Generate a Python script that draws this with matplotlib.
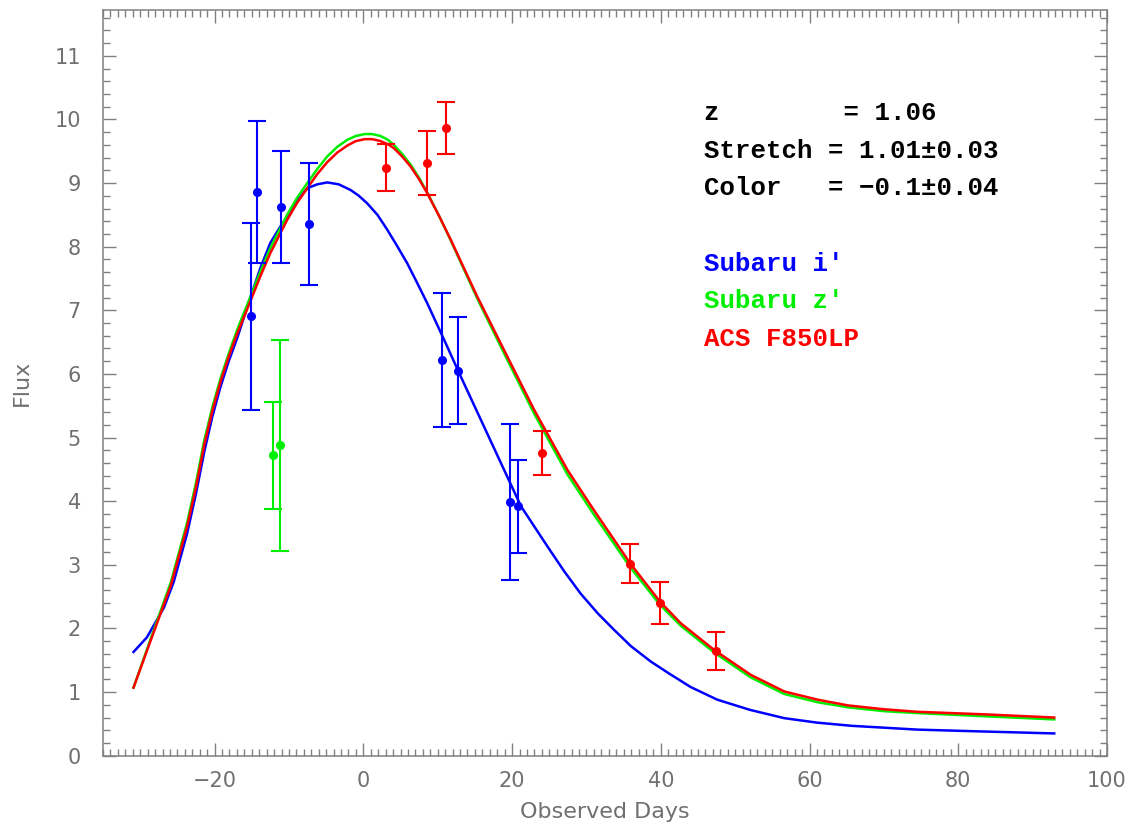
import matplotlib
matplotlib.use("Agg")
import matplotlib.pyplot as plt
from matplotlib.ticker import MultipleLocator

# ---------------- data ----------------
# Observed data points (days, flux, error)
i_days = [-15.07, -14.26, -11.08, -7.27, 10.63, 12.78, 19.72, 20.80]
i_flux = [6.91, 8.86, 8.63, 8.36, 6.22, 6.05, 3.99, 3.92]
i_err = [1.47, 1.11, 0.88, 0.96, 1.05, 0.84, 1.23, 0.73]

z_days = [-12.16, -11.26]
z_flux = [4.72, 4.88]
z_err = [0.845, 1.66]

acs_days = [3.09, 8.52, 11.07, 24.08, 35.92, 39.90, 47.44]
acs_flux = [9.24, 9.32, 9.87, 4.76, 3.02, 2.40, 1.64]
acs_err = [0.37, 0.50, 0.41, 0.35, 0.31, 0.33, 0.30]

# Model light curves
blue_x = [-30.9, -29.1, -26.8, -25.5, -23.7, -22.5, -21.4, -20.3, -19.2, -18.1,
          -17.0, -15.16, -13.8, -12.5, -11.3, -10.2, -8.9, -7.53, -6.2, -4.84,
          -3.3, -1.7, -0.6, 0.53, 1.9, 3.2, 4.5, 5.9, 7.2, 8.6,
          10.85, 13.1, 15.8, 18.5, 21.2, 24.75, 27.0, 29.2, 31.5, 33.7,
          36.0, 38.65, 41.0, 44.0, 47.6, 52.0, 56.6, 61.0, 65.6, 74.5,
          83.5, 92.9]
blue_y = [1.63, 1.86, 2.33, 2.73, 3.49, 4.12, 4.77, 5.33, 5.80, 6.20,
          6.55, 7.21, 7.68, 8.06, 8.29, 8.48, 8.72, 8.92, 8.98, 9.01,
          8.98, 8.89, 8.80, 8.68, 8.50, 8.27, 8.02, 7.74, 7.44, 7.11,
          6.54, 5.96, 5.28, 4.60, 3.92, 3.29, 2.90, 2.55, 2.24, 1.98,
          1.72, 1.48, 1.30, 1.08, 0.88, 0.72, 0.59, 0.52, 0.47, 0.41,
          0.38, 0.35]

rg_x = [-30.9, -28.5, -25.9, -23.7, -22.5, -21.4, -20.3, -19.2, -18.1, -16.95,
        -15.16, -13.8, -12.5, -11.3, -10.2, -8.9, -7.53, -6.2, -4.84, -3.5,
        -2.15, -1.0, 0.2, 1.2, 2.3, 3.3, 4.1, 5.2, 6.36, 7.5,
        8.6, 10.2, 11.75, 13.5, 15.3, 18.9, 22.95, 27.45, 31.0, 35.9,
        39.9, 42.7, 47.2, 52.1, 56.6, 61.1, 65.2, 70.0, 74.5, 83.5,
        92.9]
red_y = [1.07, 1.84, 2.67, 3.60, 4.22, 4.88, 5.42, 5.88, 6.27, 6.64,
         7.15, 7.55, 7.90, 8.18, 8.43, 8.69, 8.92, 9.14, 9.33, 9.48,
         9.59, 9.66, 9.69, 9.69, 9.66, 9.61, 9.55, 9.42, 9.26, 9.06,
         8.84, 8.48, 8.11, 7.67, 7.22, 6.38, 5.44, 4.49, 3.86, 3.02,
         2.42, 2.08, 1.66, 1.27, 1.01, 0.88, 0.79, 0.73, 0.69, 0.65,
         0.60]
green_y = [1.07, 1.87, 2.72, 3.66, 4.29, 4.95, 5.48, 5.93, 6.32, 6.70,
           7.22, 7.62, 7.98, 8.26, 8.51, 8.77, 9.00, 9.22, 9.42, 9.57,
           9.68, 9.74, 9.77, 9.77, 9.74, 9.68, 9.60, 9.46, 9.29, 9.08,
           8.85, 8.48, 8.10, 7.65, 7.19, 6.33, 5.38, 4.42, 3.79, 2.96,
           2.37, 2.04, 1.62, 1.23, 0.97, 0.84, 0.76, 0.70, 0.67, 0.62,
           0.57]

info_lines = ["z        = 1.06", "Stretch = 1.01\u00b10.03", "Color   = \u22120.1\u00b10.04"]
legend_labels = ["Subaru i\u2032", "Subaru z\u2032", "ACS F850LP"]

BLUE, GREEN, RED = "#0000ff", "#00ee00", "#ff0000"
GRAY = "#808080"
LABEL_GRAY = "#707070"

# ---------------- figure ----------------
fig = plt.figure(figsize=(11.36, 8.33), dpi=100)
ax = fig.add_axes([0.0907, 0.0928, 0.8838, 0.8952])

ax.plot(blue_x, blue_y, color=BLUE, lw=1.8, zorder=2, solid_joinstyle="round")
ax.plot(rg_x, green_y, color=GREEN, lw=1.8, zorder=2, solid_joinstyle="round")
ax.plot(rg_x, red_y, color=RED, lw=1.8, zorder=3, solid_joinstyle="round")

ekw = dict(fmt="o", ms=5.5, elinewidth=1.5, capsize=6.5, capthick=1.5, zorder=4)
ax.errorbar(i_days, i_flux, yerr=i_err, color=BLUE, **ekw)
ax.errorbar(z_days, z_flux, yerr=z_err, color=GREEN, **ekw)
ax.errorbar(acs_days, acs_flux, yerr=acs_err, color=RED, **ekw)

ax.set_xlim(-35, 100)
ax.set_ylim(0, 11.72)

ax.xaxis.set_major_locator(MultipleLocator(20))
ax.xaxis.set_minor_locator(MultipleLocator(1))
ax.yaxis.set_major_locator(MultipleLocator(1))
ax.yaxis.set_minor_locator(MultipleLocator(0.2))

ax.tick_params(which="both", direction="in", top=True, right=True, color=GRAY, width=1.0)
ax.tick_params(which="major", length=9.5)
ax.tick_params(which="minor", length=5)
ax.tick_params(axis="y", which="major", pad=16, labelsize=15, labelcolor=LABEL_GRAY)
ax.tick_params(axis="x", which="major", pad=11, labelsize=15, labelcolor=LABEL_GRAY)
for sp in ax.spines.values():
    sp.set_color(GRAY)
    sp.set_linewidth(1.1)

ax.set_xticks([-20, 0, 20, 40, 60, 80, 100])
ax.set_xticklabels(["\u221220", "0", "20", "40", "60", "80", "100"])

ax.set_xlabel("Observed Days", fontsize=16, color=LABEL_GRAY, labelpad=8)
ax.set_ylabel("Flux", fontsize=16, color=LABEL_GRAY, labelpad=16)

mono = ["Liberation Mono", "DejaVu Sans Mono"]
for k, line in enumerate(info_lines):
    ax.text(0.599, 0.862 - k * 0.0505, line, transform=ax.transAxes, fontsize=18.5,
            family=mono, color="black", va="center", ha="left", fontweight="bold")
for k, (lab, col) in enumerate(zip(legend_labels, [BLUE, GREEN, RED])):
    ax.text(0.599, 0.660 - k * 0.0505, lab, transform=ax.transAxes, fontsize=18.5,
            family=mono, color=col, va="center", ha="left", fontweight="bold")

fig.savefig("out.png", dpi=100)
